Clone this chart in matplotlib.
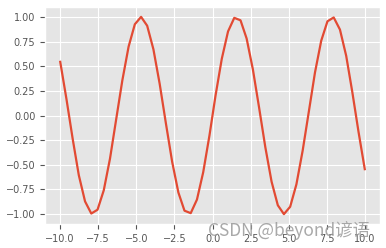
import matplotlib
matplotlib.use("Agg")
import matplotlib.pyplot as plt

x_vals = [-10.00, -9.59, -9.18, -8.78, -8.37, -7.96, -7.55, -7.14, -6.73, -6.33,
          -5.92, -5.51, -5.10, -4.69, -4.29, -3.88, -3.47, -3.06, -2.65, -2.24,
          -1.84, -1.43, -1.02, -0.61, -0.20, 0.20, 0.61, 1.02, 1.43, 1.84,
          2.24, 2.65, 3.06, 3.47, 3.88, 4.29, 4.69, 5.10, 5.51, 5.92,
          6.33, 6.73, 7.14, 7.55, 7.96, 8.37, 8.78, 9.18, 9.59, 10.00]
y_vals = [0.544, 0.166, -0.239, -0.605, -0.871, -0.994, -0.955, -0.758, -0.436, -0.043,
          0.357, 0.698, 0.925, 1.000, 0.910, 0.671, 0.322, -0.080, -0.469, -0.781,
          -0.965, -0.990, -0.852, -0.575, -0.203, 0.203, 0.575, 0.852, 0.990, 0.965,
          0.781, 0.469, 0.080, -0.322, -0.671, -0.910, -1.000, -0.925, -0.698, -0.357,
          0.043, 0.436, 0.758, 0.955, 0.994, 0.871, 0.605, 0.239, -0.166, -0.544]

plt.style.use("ggplot")

fig = plt.figure(figsize=(3.86, 2.48), dpi=100)
ax = fig.add_axes([45/386, 24/248, 335/386, 217/248])
ax.plot(x_vals, y_vals, color="#E24A33", linewidth=1.6)
ax.set_xticks([-10.0, -7.5, -5.0, -2.5, 0.0, 2.5, 5.0, 7.5, 10.0])
ax.set_yticks([-1.0, -0.75, -0.5, -0.25, 0.0, 0.25, 0.5, 0.75, 1.0])
ax.tick_params(labelsize=7)

# watermark sits over the x tick labels, as in the original
fig.text(370/386, 12/248, "CSDN @beyond谚语", ha="right", va="baseline",
         fontsize=12.5, color="#9a9a9a", alpha=0.85,
         family=["Noto Sans CJK SC", "DejaVu Sans"])

fig.savefig("out.png", dpi=100)
